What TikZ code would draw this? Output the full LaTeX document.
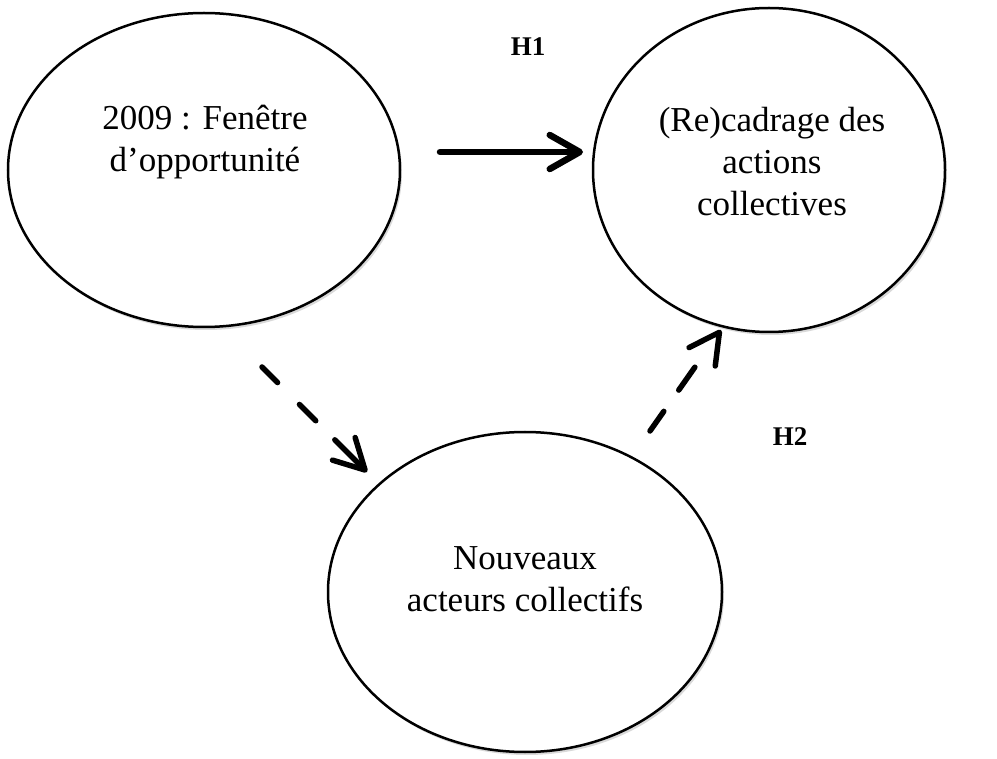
\documentclass[tikz,border=0pt]{standalone}
\usepackage{fontspec}
\setmainfont{Liberation Serif}
\usetikzlibrary{arrows.meta,shapes.geometric,shadows}
\begin{document}
\begin{tikzpicture}[x=1pt,y=-1pt,
  bubble/.style={draw=black,line width=2.5pt,ellipse,inner sep=0pt,fill=white,
    drop shadow={opacity=0.3,shadow xshift=2pt,shadow yshift=-3pt}},
  label/.style={align=center,font=\fontsize{35}{42}\selectfont,inner sep=0pt},
  hyp/.style={font=\fontsize{27}{32}\selectfont\bfseries,inner sep=0pt},
  solidarrow/.style={line width=6.5pt,line cap=round,-{Straight Barb[length=30pt,width=34pt,round]}},
  dasharrow/.style={line width=5.5pt,line cap=round,-{Straight Barb[length=30pt,width=32pt,round]}}
]
\useasboundingbox (0,0) rectangle (997,759);
\node[bubble,minimum width=392pt,minimum height=314pt] (e1) at (204,170) {};
\node[bubble,minimum width=352pt,minimum height=324pt] (e2) at (769,170) {};
\node[bubble,minimum width=394pt,minimum height=320pt] (e3) at (525,592) {};
\node[label] (t1) at (205,142) {2009 : Fenêtre\\d’opportunité};
\node[label] (t2) at (772,162) {(Re)cadrage des\\actions\\collectives};
\node[label] (t3) at (525,579) {Nouveaux\\acteurs collectifs};
\node[hyp] (h1) at (528,47) {H1};
\node[hyp] (h2) at (790,437) {H2};
\coordinate (s1) at (440,152);
\coordinate (f1) at (583,152);
\coordinate (s2) at (262,367);
\coordinate (f2) at (367,472);
\coordinate (s3) at (650,431);
\coordinate (f3) at (721,330);
\draw[solidarrow] (s1) -- (f1);
\draw[dasharrow,dash pattern=on 22pt off 31pt on 23pt off 27pt on 100pt] (s2) -- (f2);
\draw[dasharrow,dash pattern=on 24pt off 26pt on 28pt off 100pt] (s3) -- (f3);
\end{tikzpicture}
\end{document}
